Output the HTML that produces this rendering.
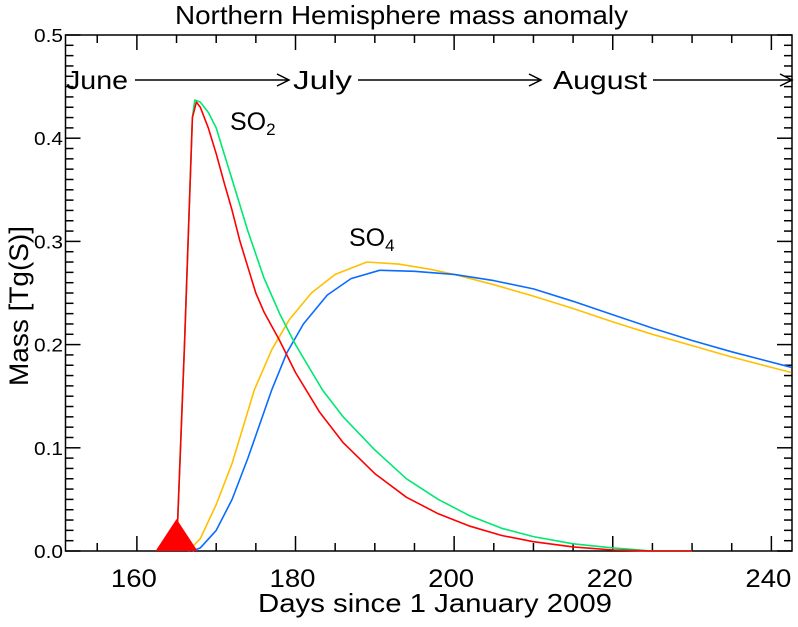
<!DOCTYPE html>
<html><head><meta charset="utf-8"><style>
body{margin:0;background:#fff;width:798px;height:627px;overflow:hidden;position:relative}
svg{display:block;font-family:"Liberation Sans",sans-serif}
</style></head><body>
<svg id="chart" width="798" height="627" viewBox="0 0 798 627"></svg>
<script>
const days = [165,166,167,167.5,168,169,170,171,172,173,174,175,176,178,180,183,186,190,194,198,202,206,210,215,220,225,230];
const so2Red = [0,0.2,0.42,0.435,0.43,0.41,0.385,0.357,0.33,0.30,0.275,0.25,0.232,0.204,0.173,0.135,0.105,0.075,0.052,0.036,0.024,0.015,0.009,0.004,0.001,0,0];
const daysG = [165,166,167,167.3,168,169,170,171,172,174,176,178,180,183.4,186,190,194,198,202,206,210,215,220,225,230];
const so2Green = [0,0.2,0.42,0.437,0.435,0.425,0.41,0.385,0.36,0.31,0.265,0.23,0.2,0.156,0.13,0.098,0.07,0.05,0.034,0.022,0.014,0.007,0.003,0,0];
const daysO = [166.5,168,170,172,174.8,177,179.2,182,185,189,193,197,200,205,210,215,220,225,230,235,242.5];
const so4Orange = [0,0.012,0.045,0.085,0.156,0.195,0.224,0.25,0.268,0.28,0.278,0.273,0.268,0.258,0.247,0.235,0.222,0.21,0.199,0.188,0.173];
const daysB = [167,168,170,172,174,177,178.9,181,184,187,190.6,195,200,205,210,215,220,225,230,235,242.5];
const so4Blue = [0,0.003,0.02,0.05,0.09,0.156,0.192,0.22,0.248,0.264,0.272,0.271,0.268,0.262,0.254,0.242,0.229,0.216,0.204,0.193,0.178];
const xTicks = [160,180,200,220,240];
const yTicks = [0.0,0.1,0.2,0.3,0.4,0.5];
const X0=151,X1=242.6,PL=65.5,PR=792,PB=551,PT=35;
const xs=d=>PL+(d-X0)/(X1-X0)*(PR-PL);
const ys=v=>PB-v/0.5*(PB-PT);
const svg=document.getElementById('chart');const NS='http://www.w3.org/2000/svg';
function el(t,a,p){const e=document.createElementNS(NS,t);for(const k in a)e.setAttribute(k,a[k]);(p||svg).appendChild(e);return e;}
const fr=el('rect',{x:PL,y:PT,width:PR-PL,height:PB-PT,fill:'none',stroke:'#000','stroke-width':1.5});


for(let d=155;d<=240;d+=5){const maj=d%20===0;const x=xs(d);
 el('line',{x1:x,x2:x,y1:PB,y2:PB-(maj?15:8),stroke:'#000','stroke-width':1.5});
 el('line',{x1:x,x2:x,y1:PT,y2:PT+(maj?15:8),stroke:'#000','stroke-width':1.5});}
xTicks.forEach(d=>{const t=el('text',{x:xs(d)-3,y:587,'text-anchor':'middle','font-size':25,textLength:46,lengthAdjust:'spacingAndGlyphs'});t.textContent=d;
 
 });
for(let i=0;i<=50;i++){const v=i/100;const maj=i%10===0;const y=ys(v);
 el('line',{x1:PL,x2:PL+(maj?15:8),y1:y,y2:y,stroke:'#000','stroke-width':1.5});
 el('line',{x1:PR,x2:PR-(maj?15:8),y1:y,y2:y,stroke:'#000','stroke-width':1.5});}
yTicks.forEach(v=>{const t=el('text',{x:63,y:ys(v)+7,'text-anchor':'end','font-size':18,textLength:29,lengthAdjust:'spacingAndGlyphs'});t.textContent=v.toFixed(1);
 
 });
function line(dx,vals,col,name){const d=dx.map((x,i)=>(i?'L':'M')+xs(x).toFixed(1)+','+ys(vals[i]).toFixed(1)).join('');
 const p=el('path',{d:d,fill:'none',stroke:col,'stroke-width':1.6,'stroke-linejoin':'round'});
 
 }
line(daysO,so4Orange,'#ffc000','so4-orange-line');
line(daysB,so4Blue,'#0a6cff','so4-blue-line');
line(daysG,so2Green,'#00e870','so2-green-line');
line(days,so2Red,'#ff0000','so2-red-line');
const tx=xs(165);
const tri=el('polygon',{points:`${tx-21},${PB} ${tx+21},${PB} ${tx},${PB-32}`,fill:'#ff0000'});


function arrow(x1,x2,name){const g=el('g',{});
 el('line',{x1:x1,x2:x2,y1:80,y2:80,stroke:'#000','stroke-width':1.5},g);
 el('polyline',{points:`${x2-12},74 ${x2},80 ${x2-12},86`,fill:'none',stroke:'#000','stroke-width':1.5},g);}
arrow(135,289,'june-arrow');arrow(358,541,'july-arrow');arrow(653,792,'august-arrow');
</script>
<svg style="position:absolute;left:0;top:0" width="798" height="627" font-family="Liberation Sans, sans-serif">
<text x="175" y="24" font-size="26" textLength="453" lengthAdjust="spacingAndGlyphs">Northern Hemisphere mass anomaly</text>
<text x="258" y="612" font-size="26" textLength="354" lengthAdjust="spacingAndGlyphs">Days since 1 January 2009</text>
<text transform="translate(28,386) rotate(-90)" font-size="27" textLength="160" lengthAdjust="spacingAndGlyphs">Mass [Tg(S)]</text>
<text x="66" y="89" font-size="26" textLength="62" lengthAdjust="spacingAndGlyphs">June</text>
<text x="293" y="89" font-size="26" textLength="59" lengthAdjust="spacingAndGlyphs">July</text>
<text x="553" y="89" font-size="26" textLength="94" lengthAdjust="spacingAndGlyphs">August</text>
<text x="230" y="130" font-size="25">SO<tspan font-size="17" dy="5">2</tspan></text>
<text x="349" y="246" font-size="25">SO<tspan font-size="17" dy="5">4</tspan></text>
</svg>
</body></html>
